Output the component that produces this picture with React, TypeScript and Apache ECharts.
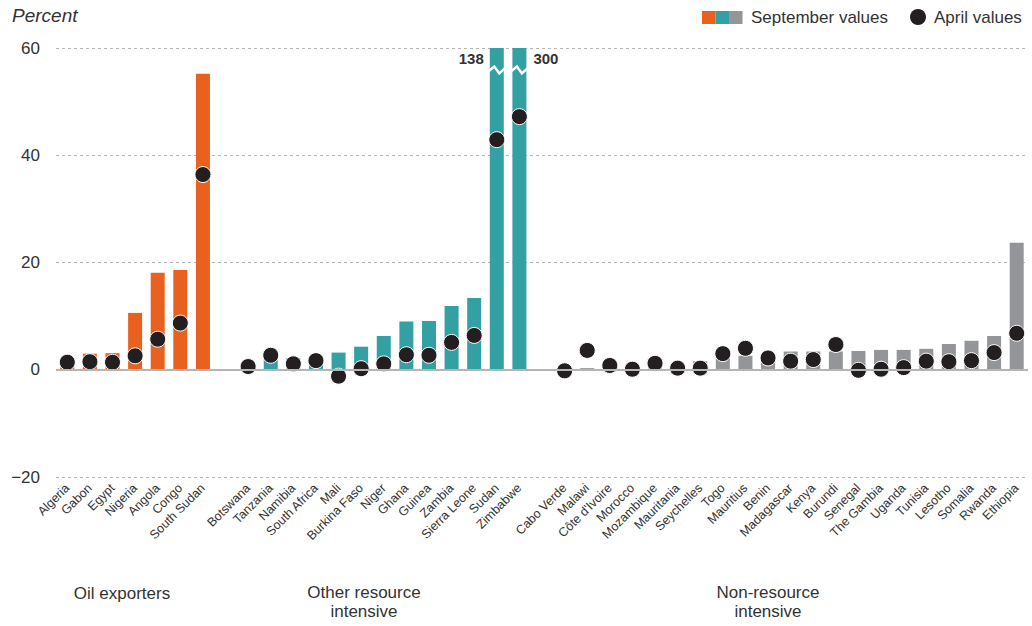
import React, { useEffect, useRef } from "react";
import * as echarts from "echarts";

// ---- Data ----
const oilCountries = ["Algeria", "Gabon", "Egypt", "Nigeria", "Angola", "Congo", "South Sudan"];
const oilSeptember = [0.5, 3.0, 3.1, 10.6, 18.1, 18.6, 55.2];
const oilApril = [1.4, 1.5, 1.4, 2.6, 5.7, 8.7, 36.4];

const otherCountries = [
  "Botswana", "Tanzania", "Namibia", "South Africa", "Mali", "Burkina Faso", "Niger",
  "Ghana", "Guinea", "Zambia", "Sierra Leone", "Sudan", "Zimbabwe",
];
const otherSeptember = [0.3, 2.3, 2.2, 2.2, 3.2, 4.3, 6.3, 9.0, 9.1, 11.9, 13.4, 138, 300];
const otherApril = [0.6, 2.7, 1.1, 1.7, -1.2, 0.2, 1.1, 2.8, 2.7, 5.1, 6.4, 42.9, 47.2];

const nonCountries = [
  "Cabo Verde", "Malawi", "Côte d'Ivoire", "Morocco", "Mozambique", "Mauritania", "Seychelles",
  "Togo", "Mauritius", "Benin", "Madagascar", "Kenya", "Burundi", "Senegal", "The Gambia",
  "Uganda", "Tunisia", "Lesotho", "Somalia", "Rwanda", "Ethiopia",
];
const nonSeptember = [0, 0.3, 0.3, 0.1, 0.3, 0.2, 1.6, 2.2, 2.6, 1.4, 3.4, 3.4, 3.4, 3.5, 3.7, 3.7, 3.9, 4.8, 5.4, 6.3, 23.7];
const nonApril = [-0.2, 3.6, 0.8, 0.1, 1.2, 0.3, 0.3, 3.0, 4.0, 2.2, 1.6, 1.9, 4.7, -0.1, 0.1, 0.4, 1.6, 1.5, 1.7, 3.2, 6.8];

const groupNames = ["Oil exporters", "Other resource\nintensive", "Non-resource\nintensive"];
const yTicks = [-20, 0, 20, 40, 60];

const COLORS = { oil: "#E8611F", other: "#33A0A4", non: "#939598", dot: "#231F20" };
const AXIS_MAX = 60;
const FONT = "Liberation Sans, Arial, sans-serif";

export default function App() {
  const ref = useRef<HTMLDivElement>(null);

  useEffect(() => {
    if (!ref.current) return;
    const chart = echarts.init(ref.current, null, { renderer: "svg" });

    const groups = [
      { names: oilCountries, sep: oilSeptember, apr: oilApril, color: COLORS.oil },
      { names: otherCountries, sep: otherSeptember, apr: otherApril, color: COLORS.other },
      { names: nonCountries, sep: nonSeptember, apr: nonApril, color: COLORS.non },
    ];

    const categories: string[] = [];
    const barData: any[] = [];
    const dotData: any[] = [];
    const breakData: any[] = [];
    groups.forEach((g, gi) => {
      if (gi > 0) {
        categories.push(" ".repeat(gi));
        barData.push("-");
        dotData.push("-");
      }
      g.names.forEach((n, i) => {
        const idx = categories.length;
        categories.push(n);
        const v = g.sep[i];
        barData.push({ value: Math.min(v, AXIS_MAX), itemStyle: { color: g.color } });
        dotData.push(g.apr[i]);
        if (v > AXIS_MAX) breakData.push([idx, 56, v]);
      });
    });
    const breakSides = breakData.map((_, i) => (i === 0 ? "left" : "right"));

    const option: any = {
      animation: false,
      grid: { left: 56, right: 4, top: 48, bottom: 149, containLabel: false },
      xAxis: {
        type: "category",
        data: categories,
        axisLine: { show: false },
        axisTick: { show: false },
        axisLabel: {
          interval: 0,
          rotate: 45,
          fontSize: 12.5,
          color: "#333",
          fontFamily: FONT,
          margin: 9,
        },
      },
      yAxis: {
        type: "value",
        min: yTicks[0],
        max: yTicks[yTicks.length - 1],
        interval: 20,
        axisLine: { show: false },
        axisTick: { show: false },
        axisLabel: {
          fontSize: 17,
          color: "#333",
          fontFamily: FONT,
          margin: 16,
          formatter: (v: number) => (v < 0 ? "\u2212" + Math.abs(v) : String(v)),
        },
        splitLine: { lineStyle: { color: "#b5b5b5", type: [3, 3], width: 1 } },
      },
      series: [
        {
          type: "bar",
          name: "September values",
          data: barData,
          barWidth: 14,
          z: 2,
          markLine: {
            silent: true,
            symbol: "none",
            label: { show: false },
            lineStyle: { color: "#b5b5b5", type: "solid", width: 2 },
            data: [{ yAxis: 0 }],
          },
        },
        {
          type: "custom",
          name: "breaks",
          data: breakData,
          z: 3,
          renderItem: (params: any, api: any) => {
            const p = api.coord([api.value(0), api.value(1)]);
            const cx = p[0];
            const cy = p[1];
            const side = breakSides[params.dataIndex];
            const label = String(api.value(2));
            return {
              type: "group",
              children: [
                {
                  type: "polyline",
                  shape: {
                    points: [
                      [cx - 8, cy + 1.5],
                      [cx - 2.5, cy - 3],
                      [cx + 2.5, cy + 4],
                      [cx + 8, cy - 1],
                    ],
                  },
                  style: { stroke: "#fff", lineWidth: 2.5, fill: null },
                },
                {
                  type: "text",
                  x: side === "left" ? cx - 13 : cx + 14,
                  y: cy - 11,
                  style: {
                    text: label,
                    align: side === "left" ? "right" : "left",
                    verticalAlign: "middle",
                    fontSize: 15,
                    fontWeight: "bold",
                    fill: "#333",
                    fontFamily: FONT,
                  },
                },
              ],
            };
          },
        },
        {
          type: "scatter",
          name: "April values",
          data: dotData,
          symbol: "circle",
          symbolSize: 16,
          z: 4,
          itemStyle: { color: COLORS.dot, opacity: 1, borderColor: "#fff", borderWidth: 1 },
        },
      ],
      graphic: [
        {
          type: "text",
          left: 12,
          top: 6,
          style: { text: "Percent", fontSize: 19, fontStyle: "italic", fill: "#333", fontFamily: FONT },
        },
        { type: "rect", shape: { x: 702, y: 11, width: 13.5, height: 13 }, style: { fill: COLORS.oil } },
        { type: "rect", shape: { x: 715.5, y: 11, width: 13.5, height: 13 }, style: { fill: COLORS.other } },
        { type: "rect", shape: { x: 729, y: 11, width: 13.5, height: 13 }, style: { fill: COLORS.non } },
        {
          type: "text",
          x: 751,
          y: 17,
          style: { text: "September values", fontSize: 17, fill: "#333", fontFamily: FONT, verticalAlign: "middle" },
        },
        { type: "circle", shape: { cx: 918, cy: 17, r: 8 }, style: { fill: COLORS.dot } },
        {
          type: "text",
          x: 934,
          y: 17,
          style: { text: "April values", fontSize: 17, fill: "#333", fontFamily: FONT, verticalAlign: "middle" },
        },
        {
          type: "text",
          x: 122,
          y: 593,
          style: { text: groupNames[0], fontSize: 17, fill: "#333", fontFamily: FONT, align: "center", verticalAlign: "middle", lineHeight: 19 },
        },
        {
          type: "text",
          x: 364,
          y: 602,
          style: { text: groupNames[1], fontSize: 17, fill: "#333", fontFamily: FONT, align: "center", verticalAlign: "middle", lineHeight: 19 },
        },
        {
          type: "text",
          x: 768,
          y: 602,
          style: { text: groupNames[2], fontSize: 17, fill: "#333", fontFamily: FONT, align: "center", verticalAlign: "middle", lineHeight: 19 },
        },
      ],
    };

    chart.setOption(option);
    return () => chart.dispose();
  }, []);

  return (
    <div
      ref={ref}
      style={{ position: "fixed", left: 0, top: 0, width: 1032, height: 626, background: "#fff" }}
    />
  );
}
